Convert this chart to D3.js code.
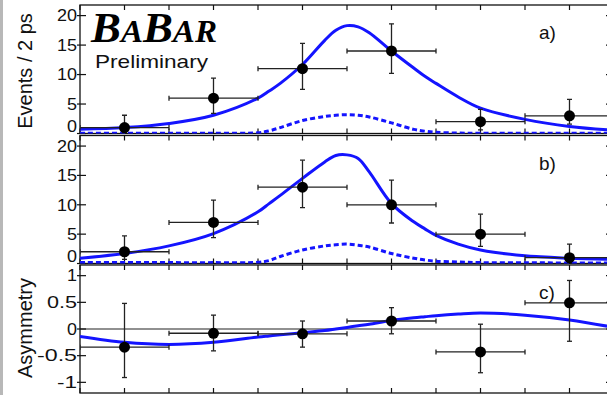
<!DOCTYPE html>
<html>
<head>
<meta charset="utf-8">
<script src="https://cdn.jsdelivr.net/npm/d3@7"></script>
<style>
  body { margin: 0; background: #fff; }
  svg { display: block; font-family: "Liberation Sans", Arial, sans-serif; }
</style>
</head>
<body>
<svg id="chart" width="607" height="395"></svg>
<script>
// measured points, bins of 2 ps
var binCenters = [-5, -3, -1, 1, 3, 5]
var binHalf = 1

var eventsA   = [1, 6, 11, 14, 2, 3]
var eventsALo = [0.2, 3.4, 7.5, 10.2, 0.6, 1.6]
var eventsAHi = [3.1, 9.4, 15.3, 18.6, 4.1, 5.8]

var eventsB   = [2, 7, 13, 10, 5, 1]
var eventsBLo = [0.7, 4.4, 9.5, 6.9, 2.9, 0.2]
var eventsBHi = [4.7, 10.8, 17.6, 14.2, 8.4, 3.3]

var asym   = [-0.34, -0.08, -0.09, 0.15, -0.43, 0.49]
var asymLo = [-0.91, -0.41, -0.34, -0.09, -0.82, -0.23]
var asymHi = [0.48, 0.26, 0.15, 0.40, 0.09, 0.91]

// fit curves
var curveT = [-6, -5, -4, -3, -2, -1.75, -1.5, -1, -0.5, -0.25, 0, 0.25, 0.5, 1, 1.5, 1.75, 2, 2.5, 3, 4, 5, 6]
var fitA  = [0.7, 1.0, 1.7, 3.1, 6.0, 7.2, 8.5, 11.7, 15.8, 17.5, 18.3, 18.1, 17.1, 14.0, 11.1, 9.7, 8.5, 6.2, 4.3, 2.4, 1.2, 0.55]
var bkgA  = [0.05, 0.05, 0.05, 0.06, 0.12, 0.45, 1.0, 2.2, 2.9, 3.1, 3.2, 3.1, 2.8, 1.8, 0.7, 0.4, 0.2, 0.08, 0.05, 0.05, 0.05, 0.05]
var fitB  = [0.9, 1.7, 3.0, 5.1, 8.8, 10.2, 11.6, 14.5, 17.3, 18.4, 18.5, 17.9, 15.6, 10.2, 7.1, 5.9, 4.8, 3.3, 2.3, 1.3, 0.9, 0.7]
var bkgB  = [0.15, 0.15, 0.15, 0.15, 0.2, 0.5, 1.2, 2.3, 3.0, 3.2, 3.3, 3.1, 2.8, 1.7, 0.9, 0.6, 0.4, 0.25, 0.15, 0.12, 0.1, 0.1]
var fitAsym = [-0.14, -0.25, -0.29, -0.25, -0.15, -0.13, -0.11, -0.07, -0.03, 0.0, 0.03, 0.06, 0.09, 0.16, 0.21, 0.23, 0.25, 0.28, 0.30, 0.26, 0.17, 0.03]

var timeTicks = [-6, -5, -4, -3, -2, -1, 0, 1, 2, 3, 4, 5, 6]
var countTicks = [0, 5, 10, 15, 20]
var asymTicks = [-1, -0.5, 0, 0.5, 1]

var svg = d3.select("#chart")
var left = 80, right = 614

var x = d3.scaleLinear().domain([-6, 6]).range([left, right])

var panels = [
  { id: "a", top: 5, bottom: 133.5, domain: [0, 21.8], ticks: countTicks, label: "a)",
    vals: eventsA, lo: eventsALo, hi: eventsAHi, fit: fitA, bkg: bkgA },
  { id: "b", top: 135.5, bottom: 263.5, domain: [0, 21.8], ticks: countTicks, label: "b)",
    vals: eventsB, lo: eventsBLo, hi: eventsBHi, fit: fitB, bkg: bkgB },
  { id: "c", top: 265, bottom: 393, domain: [-1.2, 1.2], ticks: asymTicks, label: "c)",
    vals: asym, lo: asymLo, hi: asymHi, fit: fitAsym, bkg: null, zero: true }
]

// grey strip on the left edge
svg.append("rect").attr("x", 0).attr("y", 0).attr("width", 3).attr("height", 395).attr("fill", "#b8b8b8")

panels.forEach(function(p) {
  var y = d3.scaleLinear().domain(p.domain).range([p.bottom, p.top])
  var g = svg.append("g")

  g.append("clipPath").attr("id", "clip-" + p.id)
    .append("rect")
    .attr("x", left).attr("y", p.top)
    .attr("width", right - left).attr("height", p.bottom - p.top)

  // zero line for asymmetry
  if (p.zero) {
    g.append("line")
      .attr("x1", left).attr("x2", right)
      .attr("y1", y(0)).attr("y2", y(0))
      .attr("stroke", "#222").attr("stroke-width", 1.2)
  }

  // frame
  g.append("rect")
    .attr("x", left).attr("y", p.top)
    .attr("width", right - left).attr("height", p.bottom - p.top)
    .attr("fill", "none").attr("stroke", "#111").attr("stroke-width", 1.3)

  // time ticks, inward
  g.append("g").selectAll("line")
    .data(timeTicks)
    .join("line")
    .attr("x1", d => x(d)).attr("x2", d => x(d))
    .attr("y1", p.top).attr("y2", p.top + 5)
    .attr("stroke", "#111").attr("stroke-width", 1.2)
  g.append("g").selectAll("line")
    .data(timeTicks)
    .join("line")
    .attr("x1", d => x(d)).attr("x2", d => x(d))
    .attr("y1", p.bottom).attr("y2", p.bottom - 5)
    .attr("stroke", "#111").attr("stroke-width", 1.2)

  // y ticks left and right
  g.append("g").selectAll("line")
    .data(p.ticks)
    .join("line")
    .attr("x1", left - 3).attr("x2", left + 6)
    .attr("y1", d => y(d)).attr("y2", d => y(d))
    .attr("stroke", "#111").attr("stroke-width", 1.2)
  g.append("g").selectAll("line")
    .data(p.ticks)
    .join("line")
    .attr("x1", right - 8).attr("x2", right)
    .attr("y1", d => y(d)).attr("y2", d => y(d))
    .attr("stroke", "#111").attr("stroke-width", 1.2)

  // tick labels; the lowest count label sits a little higher, as in the original
  g.append("g")
    .style("font-size", "16px")
    .selectAll("text")
    .data(p.ticks)
    .join("text")
    .attr("x", left - 3)
    .attr("y", d => y(d) + (d === 0 && !p.zero ? -7.5 : 0))
    .attr("dy", "0.36em")
    .attr("text-anchor", "end")
    .attr("textLength", d => String(d).length * 10)
    .attr("lengthAdjust", "spacingAndGlyphs")
    .attr("fill", "#111")
    .text(d => String(d))

  // fit curves
  var line = d3.line()
    .x((d, i) => x(curveT[i]))
    .y(d => y(d))
    .curve(d3.curveCatmullRom.alpha(0.5))

  var curves = g.append("g").attr("clip-path", "url(#clip-" + p.id + ")")
  if (p.bkg) {
    curves.append("path")
      .attr("d", line(p.bkg))
      .attr("fill", "none")
      .attr("stroke", "#1414ff")
      .attr("stroke-width", 3)
      .attr("stroke-dasharray", "5,3")
  }
  curves.append("path")
    .attr("d", line(p.fit))
    .attr("fill", "none")
    .attr("stroke", "#1414ff")
    .attr("stroke-width", 3)

  // data with error bars
  var pts = binCenters.map((t, i) => ({ t: t, v: p.vals[i], lo: p.lo[i], hi: p.hi[i] }))
  var eb = g.append("g").attr("clip-path", "url(#clip-" + p.id + ")")
    .attr("stroke", "#222").attr("stroke-width", 1.3)

  eb.selectAll("line.h")
    .data(pts)
    .join("line")
    .attr("class", "h")
    .attr("x1", d => x(d.t - binHalf)).attr("x2", d => x(d.t + binHalf))
    .attr("y1", d => y(d.v)).attr("y2", d => y(d.v))
  eb.selectAll("line.v")
    .data(pts)
    .join("line")
    .attr("class", "v")
    .attr("x1", d => x(d.t)).attr("x2", d => x(d.t))
    .attr("y1", d => y(d.lo)).attr("y2", d => y(d.hi))

  // caps
  pts.forEach(function(d) {
    [x(d.t - binHalf), x(d.t + binHalf)].forEach(function(cx) {
      eb.append("line").attr("x1", cx).attr("x2", cx)
        .attr("y1", y(d.v) - 2.5).attr("y2", y(d.v) + 2.5)
    });
    [y(d.lo), y(d.hi)].forEach(function(cy) {
      eb.append("line").attr("x1", x(d.t) - 2.5).attr("x2", x(d.t) + 2.5)
        .attr("y1", cy).attr("y2", cy)
    })
  })

  g.append("g").selectAll("circle")
    .data(pts)
    .join("circle")
    .attr("cx", d => x(d.t))
    .attr("cy", d => y(d.v))
    .attr("r", 5.5)
    .attr("fill", "#000")

  g.append("text")
    .attr("x", 539).attr("y", p.top + 34)
    .style("font-size", "19px")
    .attr("fill", "#111")
    .text(p.label)
})

// axis titles
svg.append("text")
  .attr("transform", "translate(32,71) rotate(-90)")
  .attr("text-anchor", "middle")
  .style("font-size", "20px")
  .attr("fill", "#111")
  .text("Events / 2 ps")

svg.append("text")
  .attr("transform", "translate(32,328) rotate(-90)")
  .attr("text-anchor", "middle")
  .style("font-size", "20px")
  .attr("fill", "#111")
  .text("Asymmetry")

// BaBar logo
var logo = svg.append("text")
  .attr("x", 91).attr("y", 42)
  .attr("textLength", 126)
  .attr("lengthAdjust", "spacingAndGlyphs")
  .style("font-family", "'Liberation Serif', 'DejaVu Serif', serif")
  .style("font-weight", "bold")
  .style("font-style", "italic")
  .attr("fill", "#000")
logo.append("tspan").style("font-size", "42px").text("B")
logo.append("tspan").style("font-size", "31px").text("A")
logo.append("tspan").style("font-size", "42px").text("B")
logo.append("tspan").style("font-size", "31px").text("AR")

svg.append("text")
  .attr("x", 95).attr("y", 68)
  .attr("textLength", 113)
  .attr("lengthAdjust", "spacingAndGlyphs")
  .style("font-size", "19px")
  .attr("fill", "#111")
  .text("Preliminary")
</script>
</body>
</html>
